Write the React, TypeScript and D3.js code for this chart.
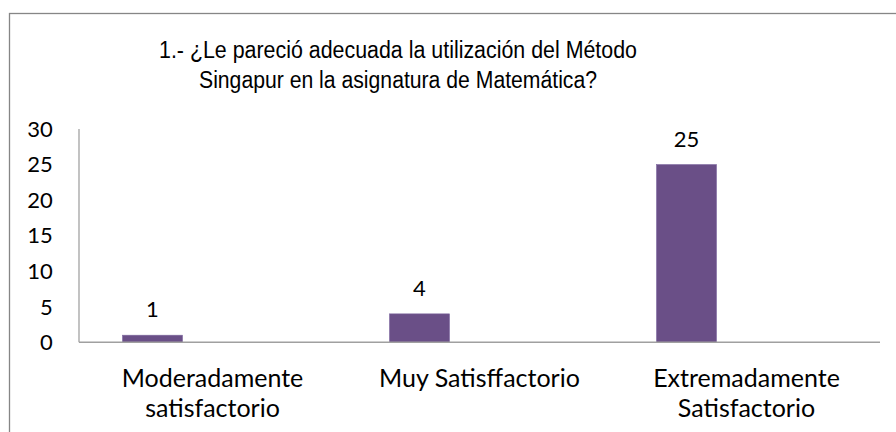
import React from "react";
import * as d3 from "d3";

const W = 896;
const H = 432;

const titleLines = [
  "1.- ¿Le pareció adecuada la utilización del Método",
  "Singapur en la asignatura de Matemática?",
];
const titleWidths = [478, 398];
const categories = ["Moderadamente satisfactorio", "Muy Satisffactorio", "Extremadamente Satisfactorio"];
const categoryLines = [["Moderadamente", "satisfactorio"], ["Muy Satisffactorio"], ["Extremadamente", "Satisfactorio"]];
const seriesKeys = ["Serie1", "Serie2", "Serie3"];
const serie1 = [1, 4, 25];
const yTicks = [0, 5, 10, 15, 20, 25, 30];

const plot = { left: 79, right: 880, top: 129, bottom: 342.3 };

export default function App() {
  const x = d3.scaleBand<string>().domain(categories).range([plot.left, plot.right]).padding(0);
  const xs = d3
    .scaleBand<string>()
    .domain(seriesKeys)
    .range([0, x.bandwidth()])
    .paddingInner(0)
    .paddingOuter(0.725);
  const y = d3.scaleLinear().domain([0, 30]).range([plot.bottom, plot.top]);
  const numFont = "Lato, 'Open Sans', sans-serif";

  return (
    <svg
      width={W}
      height={H}
      style={{ position: "absolute", left: 0, top: 0, background: "#fff" }}
    >
      <rect x={9.5} y={13.5} width={W} height={H} fill="#fff" stroke="#868686" strokeWidth={1.3} />
      <g fontFamily="'Liberation Sans', Arial, sans-serif" fontSize={23} fill="#000" textAnchor="middle">
        {titleLines.map((t, i) => (
          <text
            key={i}
            x={398}
            y={58.3 + i * 30}
            textLength={titleWidths[i]}
            lengthAdjust="spacingAndGlyphs"
          >
            {t}
          </text>
        ))}
      </g>
      {/* y axis */}
      <line x1={plot.left} x2={plot.left} y1={plot.top} y2={plot.bottom} stroke="#9a9a9a" strokeWidth={1.2} />
      <g fontFamily={numFont} fontSize={22} textAnchor="end" fill="#000">
        {yTicks.map((t) => (
          <text key={t} x={52.7} y={y(t) + 7.8}>
            {t}
          </text>
        ))}
      </g>
      {/* bars */}
      {serie1.map((v, i) => {
        const cx = x(categories[i])! + xs(seriesKeys[0])!;
        return (
          <g key={i}>
            <rect
              x={cx}
              y={y(v)}
              width={xs.bandwidth()}
              height={plot.bottom - y(v)}
              fill="#6a4f87"
              stroke="#7e68a0"
              strokeWidth={0.6}
            />
            <text
              x={cx + xs.bandwidth() / 2}
              y={y(v) - 17.8}
              textAnchor="middle"
              fontFamily={numFont}
              fontSize={22}
              fill="#000"
            >
              {v}
            </text>
          </g>
        );
      })}
      {/* x axis */}
      <line x1={plot.left} x2={plot.right} y1={plot.bottom} y2={plot.bottom} stroke="#a0a0a0" strokeWidth={1.5} />
      <g fontFamily={numFont} fontSize={25} textAnchor="middle" fill="#000">
        {categories.map((c, i) => (
          <text key={c} x={x(c)! + x.bandwidth() / 2} y={386.7}>
            {categoryLines[i].map((l, j) => (
              <tspan key={j} x={x(c)! + x.bandwidth() / 2} y={386.7 + j * 30}>
                {l}
              </tspan>
            ))}
          </text>
        ))}
      </g>
    </svg>
  );
}
